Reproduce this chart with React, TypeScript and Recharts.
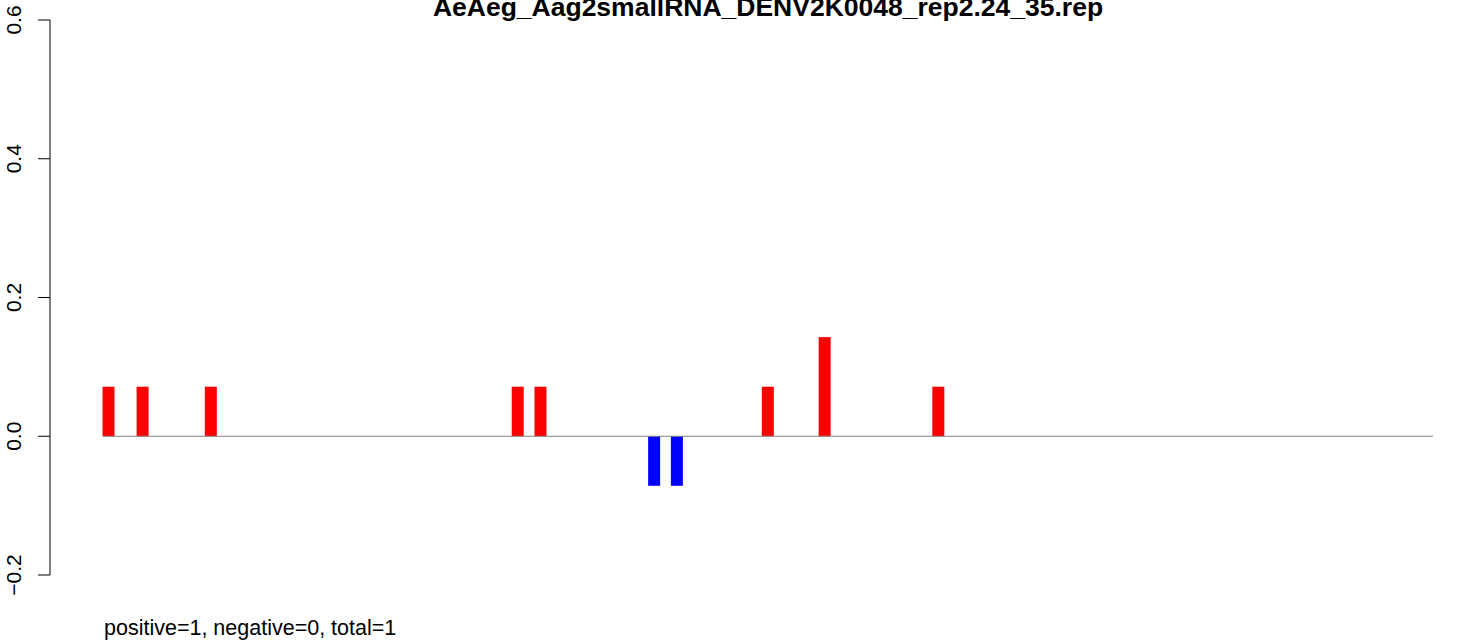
import React from "react";
import {
  BarChart,
  Bar,
  Cell,
  XAxis,
  YAxis,
  ReferenceLine,
} from "recharts";

// read-through counts per position, scaled to the plot (values are n/14)
const CATEGORY_COUNT = 117;
const POSITIVE_INDEX = [0, 3, 9, 36, 38, 58, 63, 73];
const POSITIVE_VALUE = [0.0714, 0.0714, 0.0714, 0.0714, 0.0714, 0.0714, 0.1429, 0.0714];
const NEGATIVE_INDEX = [48, 50];
const NEGATIVE_VALUE = [-0.0714, -0.0714];

const Y_TICKS = [-0.2, 0, 0.2, 0.4, 0.6];
const Y_TICK_LABELS = ["\u22120.2", "0.0", "0.2", "0.4", "0.6"];

const TITLE = "AeAeg_Aag2smallRNA_DENV2K0048_rep2.24_35.rep";
const SUBTITLE = "positive=1, negative=0, total=1";

const FONT = '"Liberation Sans", Arial, Helvetica, sans-serif';

const rows = Array.from({ length: CATEGORY_COUNT }, (_, i) => ({ idx: i, value: 0 }));
POSITIVE_INDEX.forEach((p, i) => (rows[p].value = POSITIVE_VALUE[i]));
NEGATIVE_INDEX.forEach((p, i) => (rows[p].value = NEGATIVE_VALUE[i]));

type TickProps = { x?: number; y?: number; payload?: { value: number } };

const YTick = ({ x = 0, y = 0, payload }: TickProps) => {
  const i = Y_TICKS.indexOf(payload?.value ?? NaN);
  const bx = x - 15;
  return (
    <text
      x={bx}
      y={y}
      transform={`rotate(-90, ${bx}, ${y})`}
      textAnchor="middle"
      fontSize={21}
      fontFamily={FONT}
      fill="#000"
    >
      {i >= 0 ? Y_TICK_LABELS[i] : payload?.value}
    </text>
  );
};

type ShapeProps = { x?: number; y?: number; width?: number; height?: number; fill?: string };

// R draws these as thick type="h" lines, slightly wider than the slot
const BarShape = ({ x = 0, y = 0, width = 0, height = 0, fill }: ShapeProps) => {
  if (!height) return null;
  const top = Math.min(y, y + height);
  return <rect x={x - 0.5} y={top} width={width + 1} height={Math.abs(height)} fill={fill} />;
};

export default function App() {
  return (
    <div style={{ position: "absolute", left: 0, top: 0, width: 1481, height: 641, background: "#fff" }}>
      <BarChart
        width={1481}
        height={641}
        data={rows}
        margin={{ top: 20, right: 48, bottom: 66, left: 0 }}
        barCategoryGap={0}
      >
        <XAxis xAxisId="cat" dataKey="idx" type="category" hide padding={{ left: 53, right: 0 }} />
        <XAxis
          xAxisId="num"
          dataKey="idx"
          type="number"
          domain={[-0.5, CATEGORY_COUNT - 0.5]}
          hide
          allowDataOverflow
          padding={{ left: 53, right: 0 }}
        />
        <YAxis
          width={50}
          domain={[-0.2, 0.6]}
          ticks={Y_TICKS}
          interval={0}
          allowDataOverflow
          tickSize={12}
          axisLine={{ stroke: "#000", strokeWidth: 1 }}
          tickLine={{ stroke: "#000", strokeWidth: 1 }}
          tick={<YTick />}
        />
        <Bar
          xAxisId="cat"
          dataKey="value"
          barSize={11}
          isAnimationActive={false}
          shape={<BarShape />}
        >
          {rows.map((r, i) => (
            <Cell key={i} fill={r.value < 0 ? "#0000ff" : "#ff0000"} />
          ))}
        </Bar>
        <ReferenceLine
          xAxisId="num"
          segment={[
            { x: -0.5, y: 0 },
            { x: CATEGORY_COUNT - 0.5, y: 0 },
          ]}
          stroke="#808080"
          strokeWidth={1}
          ifOverflow="visible"
        />
      </BarChart>
      <svg
        width={1481}
        height={641}
        style={{ position: "absolute", left: 0, top: 0, pointerEvents: "none" }}
      >
        <text x={768} y={16} textAnchor="middle" fontSize={26.5} fontWeight="bold" fontFamily={FONT} fill="#000">
          {TITLE}
        </text>
        <text x={104} y={635} fontSize={21.5} fontFamily={FONT} fill="#000">
          {SUBTITLE}
        </text>
      </svg>
    </div>
  );
}
